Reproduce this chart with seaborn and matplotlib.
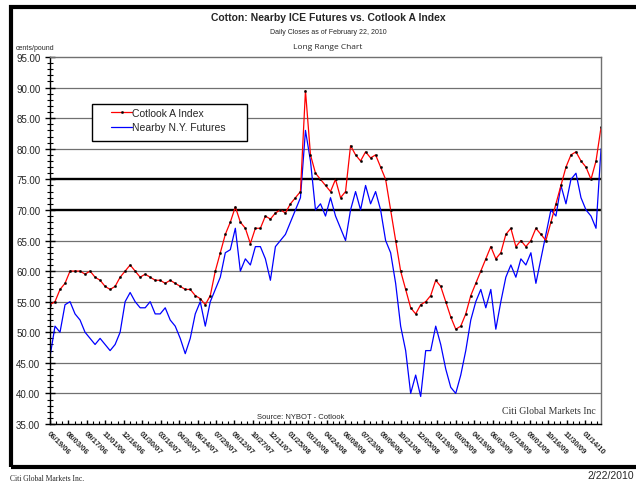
import numpy as np
import pandas as pd
import matplotlib
matplotlib.use("Agg")
import matplotlib.pyplot as plt
from matplotlib.patches import Rectangle
import seaborn as sns

start_date = "2006-06-19"
end_date = "2010-02-22"

cotlook = [54.5, 55, 57, 58, 60, 60, 60, 59.5, 60, 59, 58.5, 57.5, 57, 57.5, 59, 60,
           61, 60, 59, 59.5, 59, 58.5, 58.5, 58, 58.5, 58, 57.5, 57, 57, 56, 55.5, 54.5,
           56, 60, 63, 66, 68, 70.5, 68, 67, 64.5, 67, 67, 69, 68.5, 69.5, 70, 69.5,
           71, 72, 73, 89.5, 79, 76, 75, 74, 73, 75, 72, 73, 80.5, 79, 78, 79.5,
           78.5, 79, 77, 75, 70, 65, 60, 57, 54, 53, 54.5, 55, 56, 58.5, 57.5, 55,
           52.5, 50.5, 51, 53, 56, 58, 60, 62, 64, 62, 63, 66, 67, 64, 65, 64,
           65, 67, 66, 65, 68, 71, 74, 77, 79, 79.5, 78, 77, 75, 78, 83.5]

futures = [46, 51, 50, 54.5, 55, 53, 52, 50, 49, 48, 49, 48, 47, 48, 50, 55,
           56.5, 55, 54, 54, 55, 53, 53, 54, 52, 51, 49, 46.5, 49, 53, 55, 51,
           55, 57, 59, 63, 63.5, 67, 60, 62, 61, 64, 64, 62, 58.5, 64, 65, 66,
           68, 70, 72, 83, 78, 70, 71, 69, 72, 69, 67, 65, 70, 73, 70, 74,
           71, 73, 70, 65, 63, 58, 51, 47, 40, 43, 39.5, 47, 47, 51, 48, 44,
           41, 40, 43, 47, 52, 55, 57, 54, 57, 50.5, 55, 59, 61, 59, 62, 61,
           63, 58, 62, 66, 70, 69, 74, 71, 75, 76, 72, 70, 69, 67, 80]

tick_labels = ["06/19/06", "08/03/06", "09/17/06", "11/01/06", "12/16/06", "01/30/07",
               "03/16/07", "04/30/07", "06/14/07", "07/29/07", "09/12/07", "10/27/07",
               "12/11/07", "01/25/08", "03/10/08", "04/24/08", "06/08/08", "07/23/08",
               "09/06/08", "10/21/08", "12/05/08", "01/19/09", "03/05/09", "04/19/09",
               "06/03/09", "07/18/09", "09/01/09", "10/16/09", "11/30/09", "01/14/10"]

df_cot = pd.DataFrame({"date": pd.date_range(start_date, end_date, periods=len(cotlook)),
                       "value": cotlook})
df_fut = pd.DataFrame({"date": pd.date_range(start_date, end_date, periods=len(futures)),
                       "value": futures})

sns.set_style("white")
plt.rcParams['font.family'] = ['Liberation Sans', 'DejaVu Sans']

fig = plt.figure(figsize=(6.36, 4.85), dpi=100)
ax = fig.add_axes([0.0786, 0.1237, 0.8664, 0.7567])

# horizontal grid, 70 and 75 drawn heavy
for v in range(40, 95, 5):
    heavy = v in (70, 75)
    ax.axhline(v, color='black' if heavy else '#707070', lw=1.7 if heavy else 0.9, zorder=0)

sns.lineplot(data=df_fut, x="date", y="value", color="#0000ff", lw=0.9, ax=ax,
             label="Nearby N.Y. Futures")
sns.lineplot(data=df_cot, x="date", y="value", color="#ff0000", lw=0.9, ax=ax,
             marker="s", markersize=1.0, markerfacecolor="black", markeredgecolor="black",
             label="Cotlook A Index")

ax.set_xlim(pd.Timestamp(start_date), pd.Timestamp(end_date))
ax.set_ylim(35, 95)
ax.set_xlabel("")
ax.set_ylabel("")

ax.set_yticks(np.arange(35, 96, 5))
ax.set_yticklabels([f"{v:.2f}" for v in np.arange(35, 96, 5)], fontsize=7)
ax.set_yticks(np.arange(35, 96, 1), minor=True)
ax.tick_params(axis='y', which='major', direction='inout', length=7, width=1, color='black', left=True)
ax.tick_params(axis='y', which='minor', direction='inout', length=4, width=0.8, color='black', left=True)

tick_dates = pd.to_datetime(tick_labels, format="%m/%d/%y")
ax.set_xticks(tick_dates)
ax.set_xticklabels(tick_labels, rotation=-45, ha='left', va='top', rotation_mode='anchor',
                   fontsize=5.5, fontweight='bold')
ax.set_xticks(pd.date_range(start_date, end_date, freq="15D"), minor=True)
ax.tick_params(axis='x', which='major', direction='in', length=3, width=1, color='black',
               bottom=True, pad=4)
ax.tick_params(axis='x', which='minor', direction='in', length=2, width=0.8, color='black',
               bottom=True)

for s in ['left', 'bottom']:
    ax.spines[s].set_color('black')
    ax.spines[s].set_linewidth(1)
for s in ['top', 'right']:
    ax.spines[s].set_color('#707070')
    ax.spines[s].set_linewidth(1)

# legend: separate white box, entries inset from its left edge
ax.add_patch(Rectangle((0.076, 0.771), 0.281, 0.101, transform=ax.transAxes,
                       facecolor='white', edgecolor='black', lw=1, zorder=5))
handles, labels = ax.get_legend_handles_labels()
leg = ax.legend(handles[::-1], labels[::-1], loc='upper left',
                bbox_to_anchor=(0.105, 0.872), fontsize=7.5, frameon=False,
                handlelength=2.0, handletextpad=0.0, borderpad=0.35,
                labelspacing=0.45, borderaxespad=0)
leg.set_zorder(6)

ax.text(0.455, 0.012, "Source: NYBOT - Cotlook", transform=ax.transAxes,
        ha='center', va='bottom', fontsize=5.5)
ax.text(0.99, 0.025, "Citi Global Markets Inc", transform=ax.transAxes,
        ha='right', va='bottom', fontsize=7, color='#333333', family=['Liberation Serif'])

fig.text(0.516, 0.962, "Cotton: Nearby ICE Futures vs. Cotlook A Index",
         ha='center', va='center', fontsize=7.5, fontweight='bold')
fig.text(0.516, 0.933, "Daily Closes as of February 22, 2010",
         ha='center', va='center', fontsize=5)
fig.text(0.516, 0.903, "Long Range Chart", ha='center', va='center', fontsize=6,
         family=['Open Sans', 'DejaVu Sans'])
fig.text(0.024, 0.901, "cents/pound", ha='left', va='center', fontsize=5)

fig.text(0.015, 0.012, "Citi Global Markets Inc.", ha='left', va='center', fontsize=5.5,
         family=['Liberation Serif'])
fig.text(0.997, 0.018, "2/22/2010", ha='right', va='center', fontsize=7.5)

fig.patches.append(Rectangle((11 / 636, 1 - 468 / 485), 1.2, 460 / 485,
                             transform=fig.transFigure, fill=False, lw=3,
                             edgecolor='black'))

fig.savefig("out.png", dpi=100)
